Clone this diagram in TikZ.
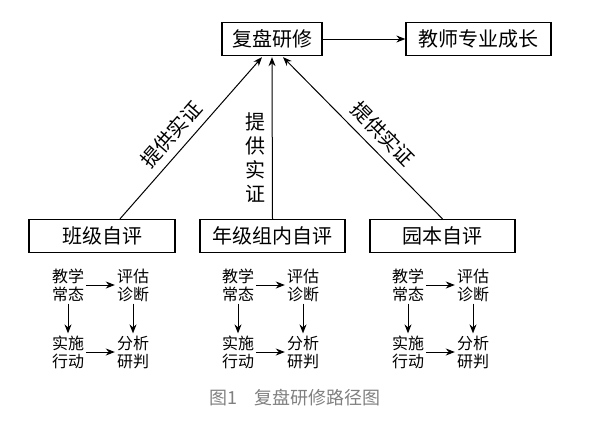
\documentclass[tikz,border=0pt]{standalone}
\usepackage{fontspec}
\setmainfont{Noto Sans CJK SC}
\usetikzlibrary{arrows.meta,calc}

\begin{document}
\begin{tikzpicture}[x=1pt,y=1pt,
  bigbox/.style={draw,line width=1.3pt,inner sep=0pt,minimum height=33pt,font=\fontsize{20}{24}\selectfont},
  small/.style={align=center,inner sep=2pt,font=\fontsize{16}{18}\selectfont},
  arr/.style={-{Stealth[length=9pt,width=7pt]},line width=1pt},
  lab/.style={font=\fontsize{20}{24}\selectfont}]
\useasboundingbox (0,0) rectangle (600,-421);
\node[bigbox,minimum width=100pt](fp) at (272,-39){复盘研修};
\node[bigbox,minimum width=145pt](js) at (478.5,-39){教师专业成长};
\node[bigbox,minimum width=146pt](bj) at (102,-236){班级自评};
\node[bigbox,minimum width=145pt](nj) at (272.5,-236){年级组内自评};
\node[bigbox,minimum width=145pt](yb) at (442.5,-236){园本自评};
\draw[arr](fp) -- (js);
\draw[arr]($(bj.north)+(18,0)$) -- node[lab,sloped,above=4pt,pos=0.45]{提供实证} ($(fp.south)+(-10,-1)$);
\draw[arr](nj.north) -- ($(fp.south)+(0,-1)$);
\draw[arr](yb.north) -- node[lab,sloped,above=4pt,pos=0.45]{提供实证} ($(fp.south)+(11,-1)$);
\node[lab,align=center,inner sep=0pt](sz) at (255,-158){提\\供\\实\\证};
% small cycles under each box
\foreach \cx/\nm in {101/a,271/b,441/c}{
  \node[small](\nm1) at (\cx-33,-285){教学\\常态};
  \node[small](\nm2) at (\cx+32,-285){评估\\诊断};
  \node[small](\nm3) at (\cx-33,-352){实施\\行动};
  \node[small](\nm4) at (\cx+32,-352){分析\\研判};
  \draw[arr](\nm1) -- (\nm2);
  \draw[arr](\nm1) -- (\nm3);
  \draw[arr](\nm2) -- (\nm4);
  \draw[arr](\nm3) -- (\nm4);
}
\node[text=black!50,font=\fontsize{18}{20}\selectfont](cap) at (295,-398){图1\quad 复盘研修路径图};
\end{tikzpicture}
\end{document}
